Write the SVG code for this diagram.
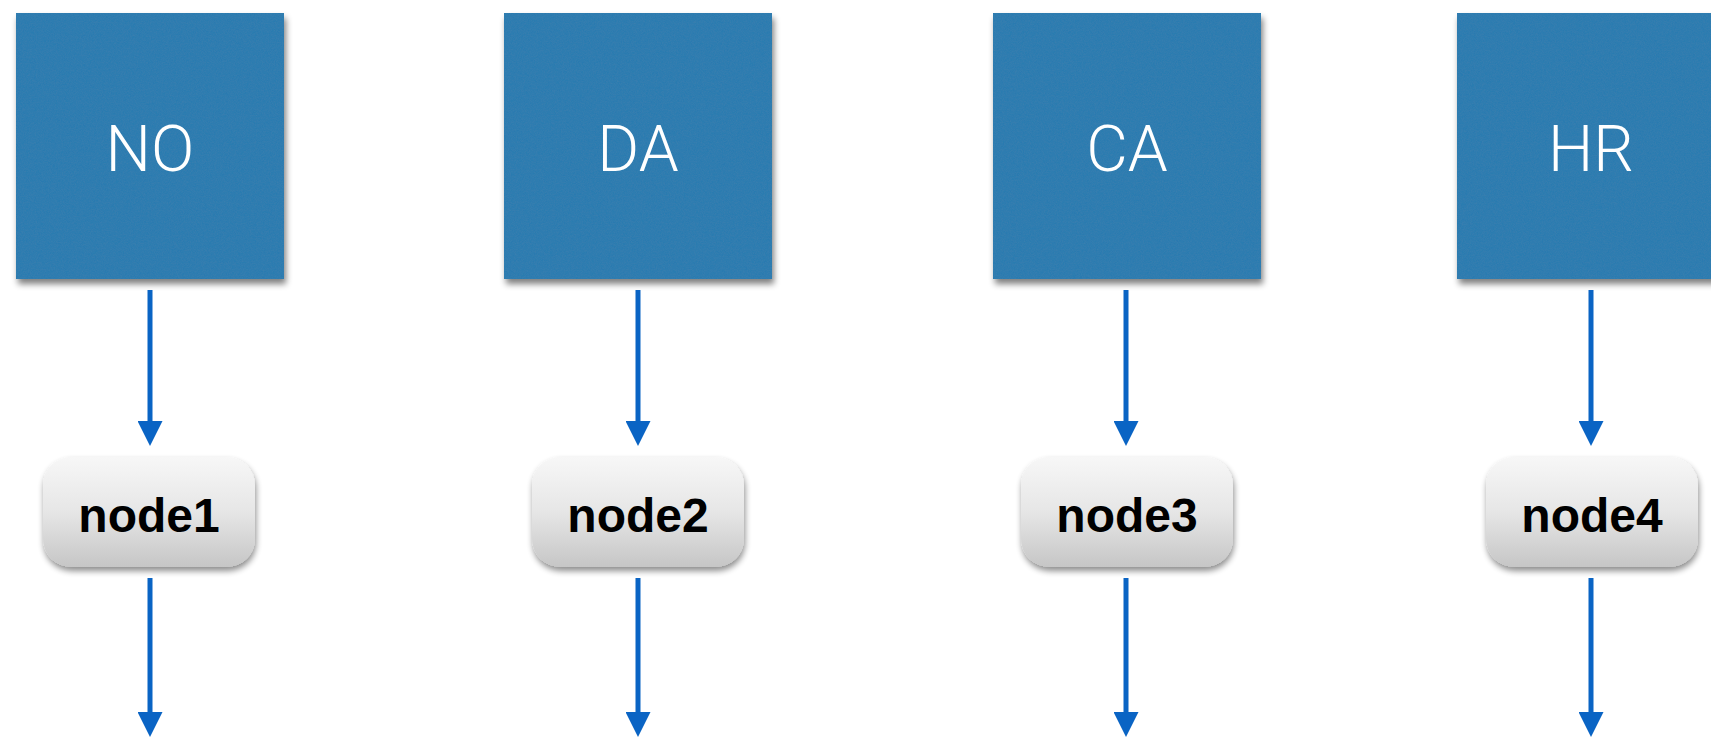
<svg xmlns="http://www.w3.org/2000/svg" width="1711" height="737" viewBox="0 0 1711 737">
  <style>
    .source { fill: #2e7cb0; filter: url(#paper); }
    .source-label { font-family: Roboto, "Open Sans", "Liberation Sans", sans-serif; font-weight: 300; font-size: 64px; fill: #ffffff; text-anchor: middle; }
    .node { fill: url(#nodeFill); filter: url(#nodeShadow); }
    .node-label { font-family: "Liberation Sans", Arial, sans-serif; font-weight: bold; font-size: 48px; fill: #000000; text-anchor: middle; }
    .edge { stroke: #0a64c4; stroke-width: 5; fill: none; marker-end: url(#arrow); }
  </style>
  <defs>
    <linearGradient id="nodeFill" x1="0" y1="0" x2="0" y2="1">
      <stop offset="0" stop-color="#f7f7f7"/>
      <stop offset="0.5" stop-color="#e6e6e6"/>
      <stop offset="1" stop-color="#c6c6c6"/>
    </linearGradient>
    <!-- blue card: paper grain plus soft drop shadow -->
    <filter id="paper" x="-5%" y="-5%" width="115%" height="115%">
      <feTurbulence type="fractalNoise" baseFrequency="0.85" numOctaves="3" seed="7" result="noise"/>
      <feColorMatrix in="noise" type="matrix" values="0 0 0 0 0.08  0 0 0 0 0.25  0 0 0 0 0.40  0.5 0 0 0 -0.2" result="speck"/>
      <feComposite in="speck" in2="SourceGraphic" operator="in" result="grain"/>
      <feGaussianBlur in="SourceAlpha" stdDeviation="3" result="blur"/>
      <feOffset in="blur" dx="2" dy="5" result="off"/>
      <feComponentTransfer in="off" result="shadow">
        <feFuncA type="linear" slope="0.5"/>
      </feComponentTransfer>
      <feMerge>
        <feMergeNode in="shadow"/>
        <feMergeNode in="SourceGraphic"/>
        <feMergeNode in="grain"/>
      </feMerge>
    </filter>
    <filter id="nodeShadow" x="-10%" y="-10%" width="125%" height="135%">
      <feGaussianBlur in="SourceAlpha" stdDeviation="3" result="blur"/>
      <feOffset in="blur" dx="1" dy="4" result="off"/>
      <feComponentTransfer in="off" result="shadow">
        <feFuncA type="linear" slope="0.45"/>
      </feComponentTransfer>
      <feMerge>
        <feMergeNode in="shadow"/>
        <feMergeNode in="SourceGraphic"/>
      </feMerge>
    </filter>
    <marker id="arrow" viewBox="0 0 25 25" markerWidth="25" markerHeight="25" markerUnits="userSpaceOnUse" refX="4" refY="12.5" orient="auto">
      <path d="M0,0 L25,12.5 L0,25 Z" fill="#0a64c4"/>
    </marker>
  </defs>

  <rect width="1711" height="737" fill="#ffffff"/>

  <!-- source cards -->
  <g id="NO">
    <rect class="source" x="16" y="13" width="268" height="266"/>
    <text class="source-label" x="150" y="171">NO</text>
  </g>
  <g id="DA">
    <rect class="source" x="504" y="13" width="268" height="266"/>
    <text class="source-label" x="638" y="171">DA</text>
  </g>
  <g id="CA">
    <rect class="source" x="993" y="13" width="268" height="266"/>
    <text class="source-label" x="1127" y="171">CA</text>
  </g>
  <g id="HR">
    <rect class="source" x="1457" y="13" width="268" height="266"/>
    <text class="source-label" x="1591" y="171">HR</text>
  </g>

  <!-- processing nodes -->
  <g id="node1">
    <rect class="node" x="43" y="457" width="212" height="110" rx="28" ry="28"/>
    <text class="node-label" x="149" y="532">node1</text>
  </g>
  <g id="node2">
    <rect class="node" x="532" y="457" width="212" height="110" rx="28" ry="28"/>
    <text class="node-label" x="638" y="532">node2</text>
  </g>
  <g id="node3">
    <rect class="node" x="1021" y="457" width="212" height="110" rx="28" ry="28"/>
    <text class="node-label" x="1127" y="532">node3</text>
  </g>
  <g id="node4">
    <rect class="node" x="1486" y="457" width="212" height="110" rx="28" ry="28"/>
    <text class="node-label" x="1592" y="532">node4</text>
  </g>

  <!-- connectors -->
  <g id="connectors">
    <line class="edge" x1="150" y1="290" x2="150" y2="425"/>
    <line class="edge" x1="638" y1="290" x2="638" y2="425"/>
    <line class="edge" x1="1126" y1="290" x2="1126" y2="425"/>
    <line class="edge" x1="1591" y1="290" x2="1591" y2="425"/>
    <line class="edge" x1="150" y1="578" x2="150" y2="716"/>
    <line class="edge" x1="638" y1="578" x2="638" y2="716"/>
    <line class="edge" x1="1126" y1="578" x2="1126" y2="716"/>
    <line class="edge" x1="1591" y1="578" x2="1591" y2="716"/>
  </g>
</svg>
